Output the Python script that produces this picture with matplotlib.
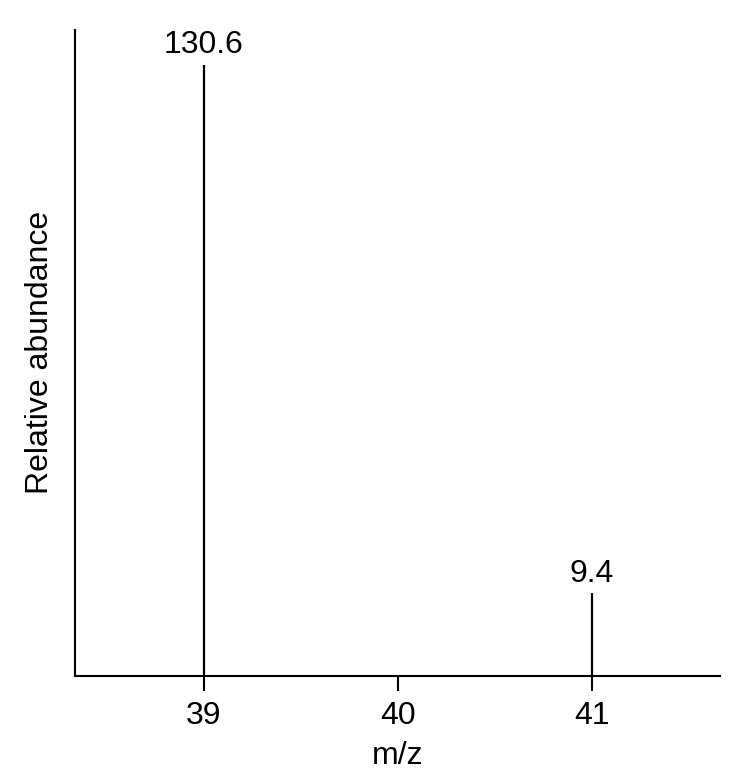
import matplotlib
matplotlib.use("Agg")
import matplotlib.pyplot as plt

plt.rcParams['font.family'] = ['Liberation Sans', 'DejaVu Sans']

# Data
mz = [39, 41]
abundance = [130.6, 9.4]
tick_positions = [39, 40, 41]

fig = plt.figure(figsize=(7.34, 7.84), dpi=100)
ax = fig.add_axes([0.102, 0.138, 0.879, 0.824])

ymin, ymax = -9.6, 138.6
ax.set_xlim(38.335, 41.66)
ax.set_ylim(ymin, ymax)

# Stick spectrum
ax.vlines(mz, ymin, abundance, color='black', linewidth=1.6)

for x, y in zip(mz, abundance):
    ax.annotate(f'{y}', xy=(x, y), xytext=(0, 3), textcoords='offset points',
                ha='center', va='bottom', fontsize=23)

# Axes styling
for side in ['top', 'right']:
    ax.spines[side].set_visible(False)
for side in ['left', 'bottom']:
    ax.spines[side].set_linewidth(1.5)

ax.set_xticks(tick_positions)
ax.set_yticks([])
ax.tick_params(axis='x', direction='out', length=11, width=1.5,
               labelsize=23, pad=7)

ax.set_xlabel('m/z', fontsize=23, labelpad=7)
ax.set_ylabel('Relative abundance', fontsize=23, labelpad=14)

fig.savefig('out.png', dpi=100, facecolor='white')
